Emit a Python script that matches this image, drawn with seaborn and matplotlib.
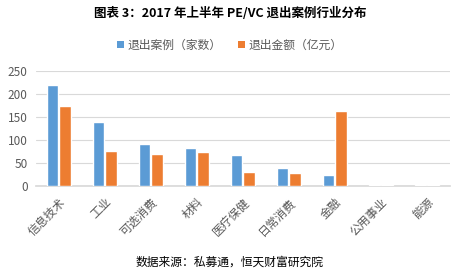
import matplotlib
matplotlib.use("Agg")
import matplotlib.pyplot as plt
import seaborn as sns
import pandas as pd
from matplotlib.patches import Patch

categories = ["信息技术", "工业", "可选消费", "材料", "医疗保健", "日常消费", "金融", "公用事业", "能源"]
exit_cases = [220, 139, 91, 83, 68, 39, 24, 2, 2]
exit_amount = [174, 76, 70, 73, 30, 29, 163, 2, 2]
series_names = ["退出案例（家数）", "退出金额（亿元）"]
yticks = [0, 50, 100, 150, 200, 250]

df = pd.DataFrame({
    "cat": categories * 2,
    "val": exit_cases + exit_amount,
    "series": [series_names[0]] * len(categories) + [series_names[1]] * len(categories),
})

sns.set_theme(style="white")
plt.rcParams["font.family"] = ["Noto Sans CJK SC", "DejaVu Sans"]

fig = plt.figure(figsize=(4.6, 2.78), dpi=100)
ax = fig.add_axes([0.078, 0.331, 0.900, 0.414])
palette = {series_names[0]: "#5B9BD5", series_names[1]: "#ED7D31"}
sns.barplot(data=df, x="cat", y="val", hue="series", palette=palette, ax=ax,
            width=0.54, gap=0.08, saturation=1, legend=False, zorder=3)
ax.set_ylim(0, 250)
ax.set_yticks(yticks)
ax.grid(axis="y", color="#D9D9D9", linewidth=0.8, zorder=0)
for s in ["top", "right", "left"]:
    ax.spines[s].set_visible(False)
ax.spines["bottom"].set_color("#D9D9D9")
ax.set_xlabel("")
ax.set_ylabel("")
ax.tick_params(axis="y", labelsize=8.5, colors="#595959", length=0, pad=6)
ax.tick_params(axis="x", labelsize=8.5, colors="#595959", length=0, pad=7)
plt.setp(ax.get_xticklabels(), rotation=45, ha="right", rotation_mode="anchor")

fig.text(0.5, 0.95, "图表 3：2017 年上半年 PE/VC 退出案例行业分布", ha="center", va="center",
         fontsize=9, fontweight="bold", color="#000000")

handles = [Patch(facecolor=palette[n], edgecolor="none") for n in series_names]
fig.legend(handles, series_names, loc="center", bbox_to_anchor=(0.5, 0.838), ncol=2,
           frameon=False, fontsize=8.5, handlelength=0.6, handleheight=0.6,
           handletextpad=0.3, columnspacing=1.4, labelcolor="#595959")

fig.text(0.5, 0.058, "数据来源：私募通，恒天财富研究院", ha="center", va="center",
         fontsize=8.5, style="italic", color="#000000")

fig.savefig("out.png", dpi=100)
